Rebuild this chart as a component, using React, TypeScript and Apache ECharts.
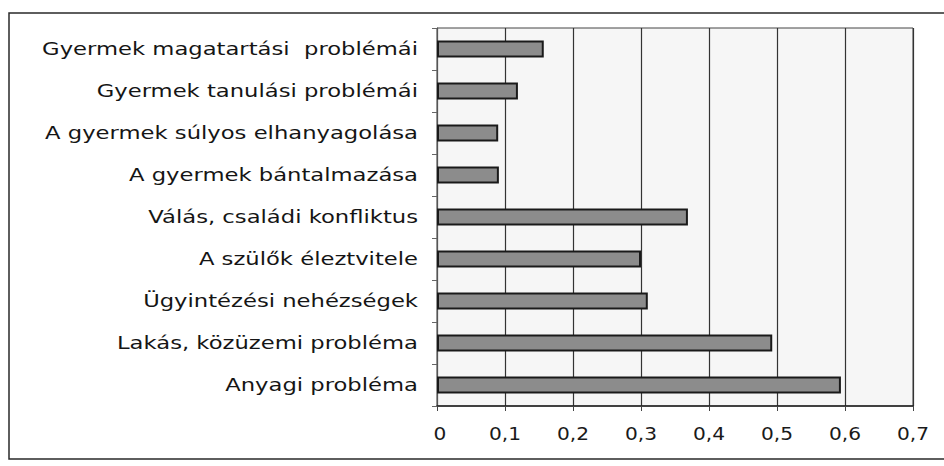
import React, { useEffect, useRef } from "react";
import * as echarts from "echarts";

const categories = [
  "Gyermek magatartási  problémái",
  "Gyermek tanulási problémái",
  "A gyermek súlyos elhanyagolása",
  "A gyermek bántalmazása",
  "Válás, családi konfliktus",
  "A szülők éleztvitele",
  "Ügyintézési nehézségek",
  "Lakás, közüzemi probléma",
  "Anyagi probléma",
];
const values = [0.157, 0.119, 0.09, 0.091, 0.369, 0.3, 0.31, 0.493, 0.594];
const xTickValues = [0, 0.1, 0.2, 0.3, 0.4, 0.5, 0.6, 0.7];
const xTicks = ["0", "0,1", "0,2", "0,3", "0,4", "0,5", "0,6", "0,7"];

const FONT = "DejaVu Sans, Liberation Sans, Arial, sans-serif";

export default function App() {
  const ref = useRef<HTMLDivElement>(null);
  useEffect(() => {
    if (!ref.current) return;
    const chart = echarts.init(ref.current, null, { renderer: "svg" });
    const border = {
      type: "rect",
      shape: { x: 9, y: 13, width: 950, height: 446 },
      style: { fill: "none", stroke: "#2a2a2a", lineWidth: 1.5 },
      silent: true,
      z: -1,
    };
    chart.setOption({
      animation: false,
      backgroundColor: "#ffffff",
      textStyle: { fontFamily: FONT },
      graphic: [border],
      grid: {
        left: 437,
        top: 28,
        right: 31,
        bottom: 60,
        show: true,
        backgroundColor: "#f6f6f6",
        borderColor: "#444",
        borderWidth: 1,
      },
      xAxis: {
        type: "value",
        min: 0,
        max: 0.7,
        interval: 0.1,
        axisLine: { show: true, lineStyle: { color: "#222", width: 1.5 } },
        axisTick: { show: true, length: 5, lineStyle: { color: "#444" } },
        axisLabel: { show: false },
        splitLine: { show: true, lineStyle: { color: "#333", width: 1.2 } },
      },
      yAxis: {
        type: "category",
        data: categories,
        inverse: true,
        axisLine: { show: true, lineStyle: { color: "#555", width: 1 } },
        axisTick: { show: true, length: 5, lineStyle: { color: "#666" } },
        axisLabel: { show: false },
      },
      series: [
        {
          type: "bar",
          data: values,
          barWidth: 17,
          itemStyle: { color: "#8c8c8c", borderColor: "#1a1a1a", borderWidth: 2 },
        },
      ],
    });
    const yLabels = categories.map((c, i) => {
      const y = chart.convertToPixel({ yAxisIndex: 0 }, i) as number;
      return {
        type: "text",
        x: 418,
        y,
        scaleX: 1.26,
        silent: true,
        style: {
          text: c,
          fill: "#151515",
          font: `18px ${FONT}`,
          align: "right",
          verticalAlign: "middle",
        },
      };
    });
    const xLabels = xTickValues.map((v, i) => {
      const x = chart.convertToPixel({ xAxisIndex: 0 }, v) as number;
      return {
        type: "text",
        x: x + (i === 0 ? 3 : 0),
        y: 434,
        scaleX: 1.12,
        silent: true,
        style: {
          text: xTicks[i],
          fill: "#1a1a1a",
          font: `18px ${FONT}`,
          align: "center",
          verticalAlign: "middle",
        },
      };
    });
    chart.setOption({ graphic: [border, ...yLabels, ...xLabels] });
    return () => chart.dispose();
  }, []);
  return <div ref={ref} style={{ width: 944, height: 466, position: "absolute", left: 0, top: 0 }} />;
}
